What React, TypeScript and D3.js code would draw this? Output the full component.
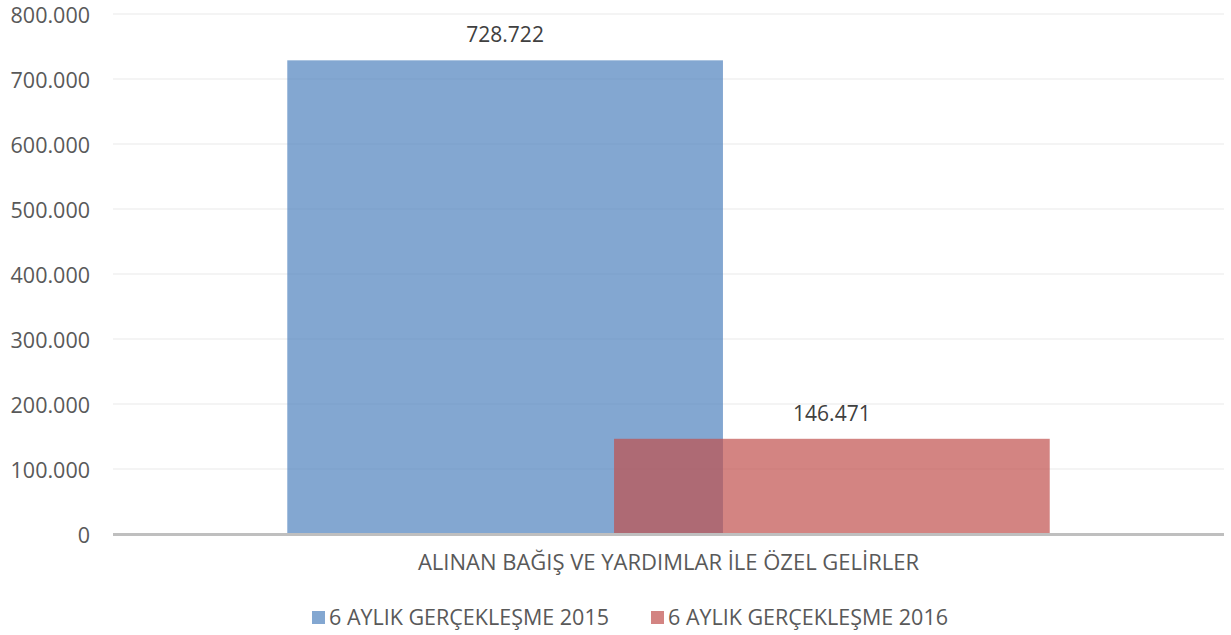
import React, { useEffect, useRef } from "react";
import * as d3 from "d3";

const categories = ["ALINAN BAĞIŞ VE YARDIMLAR İLE ÖZEL GELİRLER"];
const seriesNames = ["6 AYLIK GERÇEKLEŞME 2015", "6 AYLIK GERÇEKLEŞME 2016"];
const values2015 = [728722];
const values2016 = [146471];
const seriesColors = ["#4F81BD", "#C0504D"];
const yTicks = [0, 100000, 200000, 300000, 400000, 500000, 600000, 700000, 800000];

const W = 1231;
const H = 635;
const FONT = "'Open Sans', sans-serif";

const fmt = (v: number) => d3.format(",")(v).replace(/,/g, ".");

export default function App() {
  const ref = useRef<SVGSVGElement | null>(null);

  useEffect(() => {
    const svg = d3.select(ref.current);
    svg.selectAll("*").remove();

    const margin = { top: 14, right: 7, bottom: 101, left: 113 };
    const series = [values2015, values2016];

    const y = d3
      .scaleLinear()
      .domain([0, 800000])
      .range([H - margin.bottom, margin.top]);

    const x0 = d3
      .scaleBand()
      .domain(categories)
      .range([margin.left, W - margin.right])
      .padding(0);

    // excel style: overlap -25%, gap width 80%
    const overlap = 0.25;
    const gap = 0.8;
    const barW = x0.bandwidth() / (series.length - overlap * (series.length - 1) + gap);

    // grid
    svg
      .append("g")
      .selectAll("line")
      .data(yTicks.slice(1))
      .join("line")
      .attr("x1", margin.left)
      .attr("x2", W - margin.right)
      .attr("y1", (d) => y(d))
      .attr("y2", (d) => y(d))
      .attr("stroke", "#f0f0f0")
      .attr("stroke-width", 1.5);

    // tick labels
    svg
      .append("g")
      .selectAll("text")
      .data(yTicks)
      .join("text")
      .attr("x", 90)
      .attr("y", (d) => y(d) + 9)
      .attr("text-anchor", "end")
      .attr("font-family", FONT)
      .attr("font-size", 21.5)
      .attr("fill", "#595959")
      .text((d) => fmt(d));

    // bars
    series.forEach((vals, si) => {
      const g = svg.append("g");
      categories.forEach((c, ci) => {
        const left = (x0(c) as number) + (gap / 2) * barW + si * barW * (1 - overlap);
        g.append("rect")
          .attr("x", left)
          .attr("y", y(vals[ci]))
          .attr("width", barW)
          .attr("height", y(0) - y(vals[ci]))
          .attr("fill", seriesColors[si])
          .attr("fill-opacity", 0.7);
        g.append("text")
          .attr("x", left + barW / 2)
          .attr("y", y(vals[ci]) - 18)
          .attr("text-anchor", "middle")
          .attr("font-family", FONT)
          .attr("font-size", 21)
          .attr("fill", "#404040")
          .text(fmt(vals[ci]));
      });
    });

    // axis line
    svg
      .append("line")
      .attr("x1", margin.left)
      .attr("x2", W - margin.right)
      .attr("y1", y(0) + 0.5)
      .attr("y2", y(0) + 0.5)
      .attr("stroke", "#bfbfbf")
      .attr("stroke-width", 3);

    // category label
    svg
      .append("g")
      .selectAll("text")
      .data(categories)
      .join("text")
      .attr("x", (d) => (x0(d) as number) + x0.bandwidth() / 2)
      .attr("y", 570)
      .attr("text-anchor", "middle")
      .attr("font-family", FONT)
      .attr("font-size", 22)
      .attr("fill", "#595959")
      .text((d) => d);

    // legend
    const legendX = [312, 651];
    const lg = svg.append("g");
    seriesNames.forEach((name, i) => {
      lg.append("rect")
        .attr("x", legendX[i])
        .attr("y", 611)
        .attr("width", 13)
        .attr("height", 13)
        .attr("fill", seriesColors[i])
        .attr("fill-opacity", 0.7);
      lg.append("text")
        .attr("x", legendX[i] + 17)
        .attr("y", 625)
        .attr("font-family", FONT)
        .attr("font-size", 21.5)
        .attr("fill", "#595959")
        .text(name);
    });
  }, []);

  return (
    <div style={{ position: "absolute", left: 0, top: 0, width: W, height: H }}>
      <svg ref={ref} width={W} height={H} style={{ display: "block", background: "#fff" }} />
    </div>
  );
}
